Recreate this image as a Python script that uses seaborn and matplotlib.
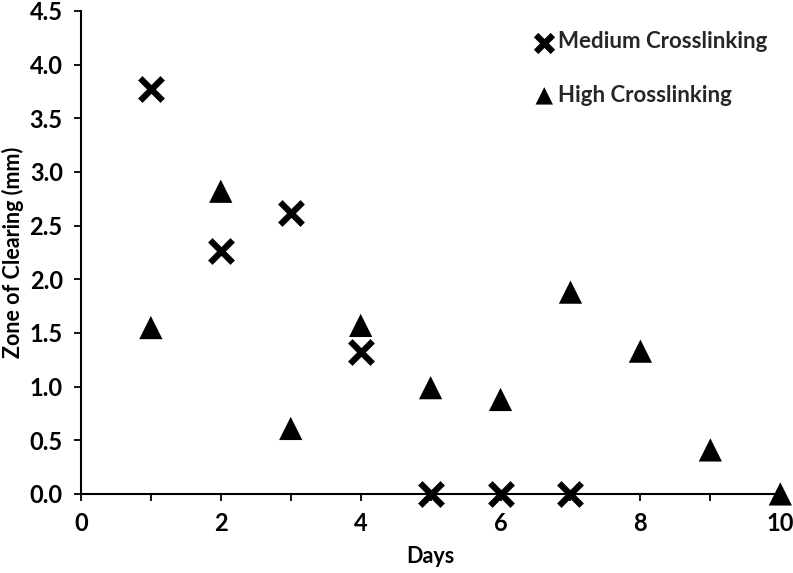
import pandas as pd
import matplotlib
matplotlib.use("Agg")
import matplotlib.pyplot as plt
import seaborn as sns
from matplotlib.ticker import MultipleLocator, FormatStrFormatter

# values
days_medium = [1, 2, 3, 4, 5, 6, 7]
zone_medium = [3.77, 2.26, 2.62, 1.32, 0.0, 0.0, 0.0]
days_high = [1, 2, 3, 4, 5, 6, 7, 8, 9, 10]
zone_high = [1.55, 2.82, 0.61, 1.57, 0.99, 0.88, 1.88, 1.33, 0.41, 0.0]
label_medium = "Medium Crosslinking"
label_high = "High Crosslinking"

sns.set_theme(style="white")
plt.rcParams["font.family"] = ["Lato", "DejaVu Sans"]
plt.rcParams["font.weight"] = "bold"

medium = pd.DataFrame({"Days": days_medium, "Zone": zone_medium})
high = pd.DataFrame({"Days": days_high, "Zone": zone_high})

fig = plt.figure(figsize=(7.93, 5.73), dpi=100)
ax = fig.add_axes([0.102, 0.138, 0.882, 0.843])

sns.scatterplot(data=medium, x="Days", y="Zone", ax=ax, marker="x", s=260,
                color="black", linewidth=4.5, label=label_medium, clip_on=False, zorder=3)
sns.scatterplot(data=high, x="Days", y="Zone", ax=ax, marker="^", s=280,
                color="black", edgecolor="none", label=label_high, clip_on=False, zorder=3)

ax.set_xlim(0, 10)
ax.set_ylim(0, 4.5)
ax.xaxis.set_major_locator(MultipleLocator(2))
ax.xaxis.set_minor_locator(MultipleLocator(1))
ax.yaxis.set_major_locator(MultipleLocator(0.5))
ax.yaxis.set_major_formatter(FormatStrFormatter("%.1f"))

sns.despine(ax=ax)
for side in ["left", "bottom"]:
    ax.spines[side].set_color("black")
    ax.spines[side].set_linewidth(1.5)

ax.tick_params(axis="both", which="major", direction="out", length=5, width=1.3,
               color="black", labelsize=17, labelcolor="black")
ax.tick_params(axis="x", which="minor", direction="out", length=5, width=1.3,
               color="black", bottom=True)
ax.tick_params(axis="x", which="major", bottom=True, pad=8)
ax.tick_params(axis="y", which="major", left=True, pad=8)

ax.set_xlabel("Days", fontsize=15.5, fontweight="bold", color="black", labelpad=8)
ax.set_ylabel("Zone of Clearing (mm)", fontsize=15.5, fontweight="bold", color="black", labelpad=4)

ax.legend(loc="upper right", bbox_to_anchor=(1.0, 0.985), frameon=False,
          fontsize=16, markerscale=0.75, labelspacing=1.45, handletextpad=0.1,
          handlelength=1.0, borderaxespad=0.2)

fig.savefig("out.png", dpi=100)
